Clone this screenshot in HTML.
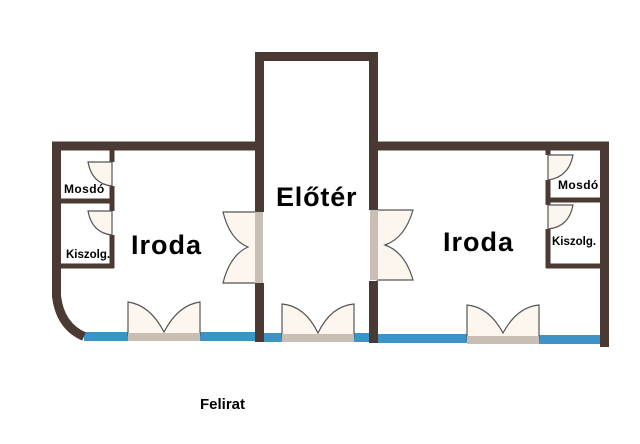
<!DOCTYPE html>
<html><head><meta charset="utf-8"><style>
html,body{margin:0;padding:0;background:#fff;width:640px;height:444px;overflow:hidden}
svg{display:block}
text{font-family:"Liberation Sans",sans-serif;font-weight:bold;fill:#000}
</style></head><body>
<svg width="640" height="444" viewBox="0 0 640 444" xmlns="http://www.w3.org/2000/svg">
<!-- windows -->
<g fill="#3d93c6">
<rect x="84" y="332" width="46" height="9"/>
<rect x="200" y="332" width="56" height="9"/>
<rect x="264" y="333" width="20" height="9"/>
<rect x="353" y="333" width="17" height="9"/>
<rect x="378" y="334" width="90" height="9"/>
<rect x="539" y="335" width="62" height="9"/>
</g>
<!-- walls -->
<g fill="none" stroke="#4a3a33" stroke-width="9">
<path d="M56.5,298 L56.5,146 L259.5,146 L259.5,56.5 L373.5,56.5 L373.5,146 L604.5,146 L604.5,347"/>
<path d="M56.5,296 Q60,326 84,336.5" stroke-width="9"/>
<line x1="259.5" y1="140" x2="259.5" y2="212"/>
<line x1="259.5" y1="283" x2="259.5" y2="342"/>
<line x1="373.5" y1="140" x2="373.5" y2="210"/>
<line x1="373.5" y1="281" x2="373.5" y2="343"/>
</g>
<g fill="none" stroke="#4a3a33" stroke-width="5">
<line x1="112" y1="150" x2="112" y2="162"/>
<line x1="112" y1="186" x2="112" y2="211"/>
<line x1="112" y1="235" x2="112" y2="268"/>
<line x1="58" y1="201" x2="112" y2="201"/>
<line x1="58" y1="266" x2="114" y2="266"/>
<line x1="548" y1="150" x2="548" y2="155"/>
<line x1="548" y1="180" x2="548" y2="205"/>
<line x1="548" y1="229" x2="548" y2="268"/>
<line x1="546" y1="200" x2="602" y2="200"/>
<line x1="546" y1="266" x2="602" y2="266"/>
</g>
<!-- doors -->
<g fill="#fdf6ee" stroke="#555" stroke-width="1.2">
<path d="M112,162 L88,162 Q92,184 112,186 Z"/>
<path d="M112,211 L88,211 Q92,233 112,235 Z"/>
<path d="M548,155 L573,155 Q569,177 548,180 Z"/>
<path d="M548,205 L573,205 Q569,227 548,229 Z"/>
<path d="M256,212 L223,212 Q230,240 248,247 Q230,255 223,283 L256,283 Z"/>
<path d="M377,210 L413,210 Q405,238 385,245 Q405,252 413,280 L377,280 Z"/>
<path d="M128,336 L128,302 Q150,305 164,332 Q178,305 200,302 L200,336 Z"/>
<path d="M282,337 L282,304 Q305,306 318,333 Q331,306 354,304 L354,337 Z"/>
<path d="M467,339 L467,305 Q489,307 503,333 Q517,307 539,305 L539,339 Z"/>
</g>
<g fill="#c9beb4">
<rect x="128" y="333" width="72" height="8"/>
<rect x="282" y="334" width="72" height="8"/>
<rect x="467" y="336" width="72" height="8"/>
<rect x="255" y="212" width="8" height="71"/>
<rect x="370" y="210" width="8" height="70"/>
</g>
<text x="64" y="193" font-size="12" letter-spacing="0.4">Mosdó</text>
<text x="66" y="258" font-size="11.5">Kiszolg.</text>
<text x="131" y="254" font-size="27" letter-spacing="1">Iroda</text>
<text x="276" y="206" font-size="27" letter-spacing="0.8">Előtér</text>
<text x="443" y="251" font-size="27" letter-spacing="1">Iroda</text>
<text x="558" y="189" font-size="12" letter-spacing="0.4">Mosdó</text>
<text x="552" y="245" font-size="11.5">Kiszolg.</text>
<text x="200" y="409" font-size="15">Felirat</text>
</svg>
</body></html>
